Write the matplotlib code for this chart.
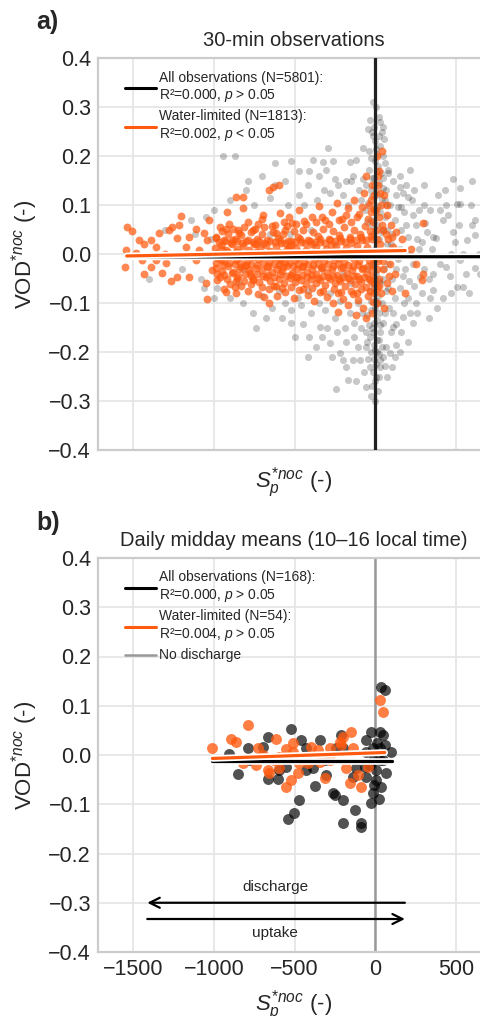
import matplotlib
matplotlib.use("Agg")
import matplotlib.pyplot as plt
import matplotlib.patheffects as pe
import seaborn as sns
import numpy as np

sns.set_style("whitegrid")
plt.rcParams['font.family'] = ['Liberation Sans', 'DejaVu Sans']
plt.rcParams['mathtext.fontset'] = 'custom'
plt.rcParams['mathtext.rm'] = 'Liberation Sans'
plt.rcParams['mathtext.it'] = 'Liberation Sans:italic'
plt.rcParams['axes.unicode_minus'] = True

# ---------------- data ----------------
ORANGE = '#ff5a0f'

# Panel a: 30-min observations, all observations (grey cloud)
a_all_pts = [
    (-15,0.311),(5,0.3),(-35,0.273),(27,0.27),(45,0.26),(-45,0.256),(38,0.25),(20,0.24),(55,0.235),(-5,0.23),
    (30,0.22),(-77,0.216),(10,0.205),(48,0.2),(-25,0.195),(60,0.185),(15,0.18),(-40,0.172),(35,0.165),(78,0.171),
    (-10,0.155),(25,0.145),(-55,0.14),(50,0.135),(5,0.128),(68,0.13),(-20,0.118),(40,0.112),(-45,0.105),(15,0.098),
    (-5,0.09),(30,0.085),(60,0.075),(-30,0.07),(10,0.06),(45,0.05),(-15,0.04),(25,0.03),(70,0.02),(-5,0.01),
    (40,0.0),(15,-0.01),(-25,-0.02),(55,-0.03),(5,-0.04),(-40,-0.05),(30,-0.06),(-10,-0.07),(65,-0.075),(18,-0.085),
    (-30,-0.095),(42,-0.1),(-5,-0.11),(25,-0.12),(-50,-0.125),(8,-0.135),(50,-0.14),(-20,-0.15),(30,-0.16),(-35,-0.17),
    (12,-0.175),(-8,-0.185),(40,-0.19),(-25,-0.2),(20,-0.205),(-45,-0.215),(5,-0.225),(30,-0.23),(-15,-0.24),(-56,-0.271),
    (-5,-0.26),(15,-0.28),(-30,-0.29),(0,-0.3),(-12,-0.02),(-20,0.06),(-8,-0.14),(22,-0.055),(-28,-0.115),(36,0.045),
    (-3,-0.195),(58,0.11),(-62,0.09),(-18,0.155),(-50,-0.03),(-10,0.26),(2,0.215),(-22,0.25),(8,0.17),(-2,-0.05),
    (3,-0.095),(-14,-0.16),(6,-0.25),(-6,-0.215),(12,0.12),(-8,0.14),(18,-0.1),(-34,-0.075),(28,-0.145),(-4,0.19),
    (-12,0.24),(22,0.28),(-40,0.21),(50,0.155),(-28,0.13),(65,0.1),(-50,0.065),(75,0.05),(35,0.0),(-3,-0.01),
    (80,-0.02),(48,-0.05),(-22,-0.06),(62,-0.12),(-42,-0.145),(25,-0.175),(-52,-0.18),(45,-0.21),(-35,-0.23),(10,-0.2),
    (-20,-0.27),(25,-0.25),
    (89,-0.203),(68,-0.189),(58,-0.229),(27,-0.216),(110,-0.148),(130,-0.142),(172,-0.128),(213,-0.121),(275,-0.046),(358,-0.073),
    (130,0.12),(172,0.124),(203,0.117),(224,0.11),(151,0.137),(213,0.171),(90,0.1),(120,0.07),(160,0.05),(200,0.035),
    (250,0.06),(95,0.02),(140,-0.01),(185,-0.03),(230,-0.02),(270,0.01),(105,-0.05),(150,-0.07),(200,-0.09),(250,-0.1),
    (85,-0.11),(120,-0.09),(170,-0.045),(240,-0.065),(300,-0.03),(290,0.025),(110,0.15),(80,0.165),(180,0.085),(140,0.095),
    (260,-0.12),(95,-0.16),(130,-0.185),(75,-0.25),(100,0.04),(125,-0.03),(155,0.01),(210,-0.055),(80,-0.07),(190,0.06),
    (150,0.16),(190,0.14),(240,0.13),(270,0.09),(300,0.1),(230,0.08),(160,0.095),(210,0.0),(260,0.03),(110,-0.12),
    (180,-0.1),(230,-0.14),(160,-0.16),(290,-0.08),(320,0.045),(340,-0.09),(300,0.14),(120,-0.21),(200,-0.18),(100,-0.23),
    (150,-0.2),
    (306,0.063),(420,0.069),(358,0.035),(378,0.032),(482,0.045),(492,0.025),(565,0.028),(617,0.038),(617,-0.029),(440,-0.027),
    (523,-0.012),(503,-0.067),(544,-0.067),(482,0.154),(523,0.134),(440,0.1),(503,0.103),(523,0.103),(330,-0.05),(400,-0.02),
    (460,-0.045),(340,0.09),(390,0.12),(600,0.06),(640,0.0),(560,-0.04),(420,-0.09),(350,0.01),(470,0.0),(590,0.1),
    (380,-0.11),(330,-0.13),(450,0.08),(520,0.06),(580,-0.08),(620,0.07),(470,-0.08),(400,0.09),(360,-0.04),(540,0.0),
    (600,0.15),(430,0.13),(650,-0.04),
    (-294,0.217),(-387,0.192),(-325,0.187),(-304,0.171),(-160,0.187),(-118,0.192),(-253,0.154),(-149,0.148),(-77,0.154),(-200,0.12),
    (-420,0.14),(-470,0.17),(-360,0.11),(-280,0.125),(-100,0.13),(-170,0.1),(-440,0.1),(-222,-0.203),(-201,-0.216),(-139,-0.216),
    (-98,-0.216),(-366,-0.189),(-408,-0.169),(-284,-0.182),(-449,-0.142),(-346,-0.148),(-170,-0.258),(-242,-0.275),(-130,-0.17),(-190,-0.15),
    (-250,-0.13),(-310,-0.115),(-400,-0.12),(-460,-0.105),(-90,-0.15),(-60,-0.19),(-110,-0.1),(-160,-0.12),(-220,-0.095),(-280,-0.08),
    (-350,-0.1),(-420,-0.075),(-480,-0.09),(-70,-0.24),(-120,-0.26),(-330,-0.03),(-250,0.02),(-150,-0.06),(-400,0.05),(-80,-0.12),
    (-130,-0.14),(-185,-0.18),(-300,-0.15),(-60,-0.16),(-240,-0.16),(-110,-0.19),(-90,0.11),(-140,0.16),(-230,0.14),(-320,0.13),
    (-330,-0.17),(-420,-0.21),(-180,-0.23),(-270,-0.21),(-500,-0.17),(-520,-0.14),(-560,-0.1),(-620,0.14),(-680,-0.13),(-740,-0.15),
    (-790,0.15),(-350,0.16),(-260,0.19),(-180,0.15),(-410,0.17),(-520,0.19),(-470,0.12),(-200,-0.04),(-380,0.02),
    (-946,0.2),(-868,0.2),(-700,0.16),(-620,0.185),(-560,0.15),(-800,0.13),(-900,0.11),(-1000,0.09),(-1050,0.075),(-750,0.1),
    (-650,0.115),(-540,0.1),(-980,-0.07),(-900,-0.09),(-820,-0.1),(-760,-0.12),(-700,-0.085),(-640,-0.11),(-580,-0.13),(-520,-0.115),
    (-600,-0.075),(-850,-0.06),(-1080,-0.05),(-1020,0.03),(-950,0.0),(-700,0.02),(-600,-0.02),(-530,0.04),(-1140,0.07),(-1200,-0.03),
    (-1000,-0.09),(-1060,-0.07),(-1120,0.04),(-1300,0.05),(-1400,-0.05),(-650,0.04),(-820,-0.03),
]

# Panel a: water-limited observations (orange)
a_wl_pts = [
    (-1537,0.056),(-1506,0.046),(-1547,0.009),(-1551,-0.026),(-1464,0.028),(-1433,0.021),(-1392,0.028),(-1361,0.015),(-1340,0.043),(-1278,0.05),
    (-1257,0.056),(-1206,0.078),(-1216,0.059),(-1226,0.032),(-1154,0.035),(-1175,0.015),(-1443,-0.012),(-1433,-0.041),(-1392,-0.026),(-1361,-0.012),
    (-1299,-0.019),(-1268,-0.056),(-1226,-0.046),(-1319,-0.039),(-1154,-0.046),(-1112,-0.012),(-1092,0.009),(-1061,0.042),(-1030,0.069),(-1040,0.028),
    (-1051,-0.06),(-1040,-0.091),(-1009,-0.033),(-978,-0.053),(-957,-0.012),(-926,-0.077),(-916,0.086),(-926,0.052),(-864,0.117),(-822,0.117),
    (-822,0.093),(-864,-0.08),(-864,-0.056),(-988,0.032),(-947,0.011),(-885,0.028),(-864,0.005),(-843,0.042),(-833,-0.026),(-781,-0.033),
    (-760,-0.053),(-740,0.021),(-729,0.062),(-698,0.079),(-657,0.131),(-636,0.137),(-595,0.141),(-688,-0.087),(-657,-0.1),(-615,-0.066),
    (-584,-0.012),(-615,0.042),(-564,0.066),(-533,0.076),(-533,0.015),(-492,-0.046),(-1480,0.002),(-1300,0.0),(-1180,-0.004),(-1110,0.052),
    (-960,0.055),(-905,0.062),(-850,0.048),(-790,0.066),(-745,0.052),(-700,0.071),(-640,0.058),(-590,0.083),(-560,0.05),(-515,0.064),
    (-470,0.09),(-430,0.061),(-395,0.076),(-350,0.098),(-310,0.07),(-270,0.085),(-240,0.105),(-205,0.072),(-170,0.093),(-135,0.11),
    (-100,0.081),(-70,0.124),(-40,0.1),(-20,0.14),(-55,0.16),(-10,0.12),(-30,0.085),
    (-950,0.047),(-880,0.052),(-815,0.055),(-760,0.049),(-690,0.056),(-620,0.06),(-548,0.058),(-490,0.062),(-440,0.068),(-370,0.065),
    (-330,0.075),(-285,0.062),(-225,0.07),(-185,0.08),(-150,0.066),(-115,0.075),(-85,0.095),(-48,0.072),(-25,0.11),(-8,0.092),
    (-985,0.035),(-940,0.028),(-910,0.041),(-870,0.03),(-830,0.038),(-800,0.026),(-770,0.044),(-735,0.031),(-705,0.04),(-670,0.029),
    (-635,0.045),(-605,0.033),(-575,0.041),(-540,0.027),(-505,0.046),(-480,0.034),(-450,0.05),(-420,0.029),(-385,0.044),(-355,0.036),
    (-325,0.052),(-290,0.031),(-260,0.047),(-225,0.038),(-195,0.055),(-160,0.034),(-130,0.05),(-95,0.041),(-65,0.058),(-35,0.046),(-12,0.065),
    (-970,0.024),(-930,0.027),(-895,0.022),(-860,0.026),(-825,0.023),(-790,0.028),(-755,0.024),(-720,0.026),(-688,0.022),(-655,0.027),
    (-622,0.024),(-590,0.028),(-558,0.023),(-525,0.026),(-495,0.024),(-465,0.03),(-435,0.022),(-405,0.027),(-375,0.025),(-345,0.03),
    (-315,0.023),(-282,0.028),(-250,0.026),(-218,0.032),(-186,0.024),(-155,0.03),(-122,0.028),(-90,0.034),(-58,0.029),(-28,0.036),
    (-995,0.012),(-955,0.018),(-925,0.008),(-890,0.02),(-855,0.011),(-820,0.017),(-785,0.009),(-750,0.021),(-715,0.012),(-680,0.019),
    (-650,0.007),(-615,0.016),(-585,0.022),(-550,0.01),(-520,0.018),(-490,0.013),(-460,0.024),(-430,0.009),(-400,0.02),(-370,0.014),
    (-340,0.025),(-305,0.011),(-275,0.019),(-245,0.016),(-210,0.027),(-180,0.012),(-150,0.022),(-115,0.017),(-85,0.028),(-50,0.015),(-20,0.03),
    (-980,0.002),(-945,-0.001),(-910,0.004),(-875,0.0),(-842,0.003),(-808,-0.002),(-772,0.001),(-738,0.005),(-702,-0.001),(-668,0.003),
    (-632,0.0),(-600,0.004),(-568,-0.002),(-535,0.002),(-505,0.0),(-475,0.005),(-445,-0.001),(-415,0.003),(-385,0.0),(-355,0.004),
    (-325,-0.002),(-295,0.002),(-262,0.005),(-232,0.0),(-200,0.003),(-170,-0.001),(-140,0.004),(-108,0.001),(-78,0.003),(-45,-0.002),(-18,0.002),
    (-975,-0.008),(-935,-0.014),(-900,-0.005),(-865,-0.012),(-830,-0.003),(-795,-0.015),(-760,-0.007),(-725,-0.011),(-690,-0.002),(-660,-0.016),
    (-625,-0.006),(-595,-0.01),(-560,-0.018),(-530,-0.004),(-500,-0.012),(-470,-0.007),(-440,-0.017),(-410,-0.002),(-380,-0.011),(-350,-0.006),
    (-320,-0.015),(-290,-0.003),(-258,-0.012),(-228,-0.008),(-195,-0.016),(-165,-0.004),(-135,-0.01),(-100,-0.014),(-70,-0.005),(-40,-0.012),(-15,-0.008),
    (-985,-0.019),(-945,-0.022),(-908,-0.018),(-872,-0.021),(-838,-0.019),(-802,-0.023),(-768,-0.02),(-732,-0.022),(-698,-0.019),(-665,-0.024),
    (-630,-0.02),(-600,-0.022),(-570,-0.026),(-538,-0.019),(-508,-0.024),(-478,-0.02),(-448,-0.025),(-418,-0.021),(-388,-0.023),(-358,-0.02),
    (-328,-0.026),(-296,-0.021),(-264,-0.024),(-234,-0.02),(-202,-0.027),(-170,-0.022),(-140,-0.025),(-106,-0.022),(-74,-0.028),(-44,-0.024),(-14,-0.022),
    (-990,-0.028),(-950,-0.034),(-915,-0.025),(-880,-0.036),(-845,-0.03),(-810,-0.024),(-775,-0.038),(-740,-0.029),(-705,-0.033),(-672,-0.026),
    (-640,-0.037),(-610,-0.03),(-578,-0.035),(-545,-0.025),(-515,-0.039),(-485,-0.031),(-455,-0.027),(-425,-0.036),(-395,-0.03),(-365,-0.041),
    (-335,-0.028),(-300,-0.036),(-270,-0.031),(-240,-0.043),(-210,-0.029),(-178,-0.038),(-145,-0.033),(-112,-0.045),(-80,-0.03),(-50,-0.04),(-20,-0.035),
    (-980,-0.04),(-935,-0.043),(-890,-0.039),(-852,-0.044),(-805,-0.041),(-770,-0.045),(-732,-0.04),(-695,-0.044),(-662,-0.042),(-625,-0.046),
    (-590,-0.041),(-555,-0.045),(-520,-0.043),(-488,-0.047),(-455,-0.042),(-422,-0.046),(-390,-0.043),(-358,-0.048),(-326,-0.044),(-292,-0.047),
    (-262,-0.045),(-228,-0.05),(-198,-0.046),(-168,-0.049),(-135,-0.045),(-102,-0.05),(-70,-0.047),(-40,-0.052),(-12,-0.048),
    (-965,-0.046),(-920,-0.052),(-860,-0.048),(-815,-0.055),(-760,-0.05),(-720,-0.058),(-680,-0.047),(-650,-0.056),(-600,-0.052),(-565,-0.06),
    (-530,-0.049),(-495,-0.057),(-460,-0.053),(-430,-0.062),(-400,-0.05),(-370,-0.059),(-340,-0.054),(-310,-0.064),(-280,-0.051),(-250,-0.06),
    (-220,-0.056),(-190,-0.066),(-160,-0.053),(-125,-0.061),(-92,-0.057),(-60,-0.068),(-30,-0.055),(-10,-0.062),
    (-900,-0.062),(-830,-0.066),(-770,-0.062),(-700,-0.068),(-630,-0.065),(-580,-0.07),(-520,-0.068),(-450,-0.072),(-390,-0.07),(-325,-0.075),
    (-255,-0.072),(-210,-0.078),(-150,-0.075),(-115,-0.08),(-88,-0.072),(-35,-0.075),(-8,-0.08),
    (-940,-0.072),(-870,-0.068),(-790,-0.075),(-730,-0.081),(-660,-0.072),(-610,-0.085),(-560,-0.078),(-505,-0.09),(-470,-0.074),(-420,-0.083),
    (-380,-0.095),(-345,-0.077),(-300,-0.088),(-265,-0.1),(-230,-0.079),(-200,-0.091),(-170,-0.105),(-140,-0.082),(-105,-0.094),(-75,-0.11),
    (-45,-0.086),(-15,-0.098),(-230,-0.118),(-120,-0.125),(-60,-0.13),(-20,-0.12),
    (10,0.2),(25,0.17),(40,0.21),(15,0.14),(55,0.12),(35,0.1),(70,0.08),(20,0.075),(95,0.06),(50,0.05),
    (130,0.045),(80,0.03),(165,0.03),(110,0.015),(30,0.02),(60,0.0),(140,-0.005),(15,-0.015),(90,-0.02),(45,-0.03),
    (120,-0.04),(20,-0.05),(70,-0.06),(100,-0.075),(35,-0.08),(10,-0.1),(55,-0.11),(296,0.063),(296,-0.04),(286,-0.053),
    (182,-0.08),(220,0.01),(250,-0.02),(5,0.05),(12,0.03),(8,-0.03),(25,-0.065),(40,0.06),(65,0.04),(85,-0.045),
    (105,0.035),(75,0.1),(30,0.125),(48,-0.015),(5,0.09),(18,0.16),(8,-0.07),
]

# Panel b: daily midday means
b_all_pts = [
    (37,0.139),(58,0.131),(-522,0.052),(-667,0.037),(-791,0.014),(-853,-0.039),(-905,0.003),(-667,-0.049),(-605,-0.049),(-460,0.03),
    (-470,-0.091),(-501,-0.118),(-543,-0.13),(-346,0.03),(-377,-0.062),(-305,-0.04),(-263,-0.078),(-253,-0.081),(-201,-0.091),(-211,0.041),
    (-128,-0.112),(-201,-0.139),(-87,-0.139),(-87,-0.146),(-25,0.047),(-56,0.03),(-15,0.014),(47,0.041),(27,0.014),(99,0.007),
    (6,-0.03),(68,-0.037),(37,-0.064),(-25,-0.098),(-15,-0.078),(6,-0.051),(-67,-0.024),(-118,-0.027),(-387,-0.027),(-429,-0.03),
    (-553,-0.024),(-201,0.014),(-56,0.007),(27,-0.01),(-781,-0.01),(-429,0.014),(-698,0.017),(-594,-0.03),(-242,0.014),(-139,-0.044),
    (-315,-0.01),(-56,-0.044),(27,0.047),(47,-0.01),(-15,-0.01),(10,0.025),(-35,-0.02),(60,0.02),(-10,-0.06),(20,-0.09),
]
b_wl_pts = [
    (-1009,0.014),(-791,0.061),(-895,0.032),(-864,0.027),(-822,-0.017),(-739,-0.021),(-729,0.014),(-667,-0.03),(-615,0.032),(-625,-0.01),
    (-656,-0.037),(-594,-0.027),(-553,0.012),(-512,0.024),(-553,-0.064),(-522,-0.051),(-470,-0.017),(-481,-0.037),(-398,0.017),(-418,-0.017),
    (-346,-0.014),(-356,0.01),(-315,-0.047),(-284,0.014),(-222,0.027),(-201,0.037),(-211,0.02),(-180,-0.027),(-149,0.047),(-139,0.014),
    (-160,-0.057),(-108,-0.04),(-87,-0.064),(-46,-0.024),(27,0.112),(47,0.088),(-594,-0.004),(-512,0.007),(-698,0.0),(-284,-0.01),
]

# regression lines (endpoints)
a_fit_all_x, a_fit_all_y = [-1545, 660], [-0.006, -0.0055]
a_fit_wl_x, a_fit_wl_y = [-1540, 185], [-0.004, 0.007]
b_fit_all_x, b_fit_all_y = [-1009, 101], [-0.012, -0.012]
b_fit_wl_x, b_fit_wl_y = [-1009, 58], [-0.007, 0.005]

a_labels = ["All observations (N=5801):\nR²=0.000, $p$ > 0.05",
            "Water-limited (N=1813):\nR²=0.002, $p$ < 0.05"]
b_labels = ["All observations (N=168):\nR²=0.000, $p$ > 0.05",
            "Water-limited (N=54):\nR²=0.004, $p$ > 0.05",
            "No discharge"]

yticks = [-0.4, -0.3, -0.2, -0.1, 0.0, 0.1, 0.2, 0.3, 0.4]
xticks = [-1500, -1000, -500, 0, 500]
XLIM = (-1718, 710)
YLIM = (-0.4, 0.4)

# ---------------- figure ----------------
fig = plt.figure(figsize=(4.8, 10.16), dpi=100)
ax1 = fig.add_axes([98/480, (1016-450)/1016, 392/480, 392/1016])
ax2 = fig.add_axes([98/480, (1016-952)/1016, 392/480, 394/1016])

stroke = [pe.Stroke(linewidth=4.8, foreground='white'), pe.Normal()]

for ax in (ax1, ax2):
    ax.set_xlim(*XLIM)
    ax.set_ylim(*YLIM)
    ax.set_xticks(xticks)
    ax.set_yticks(yticks)
    ax.set_yticklabels([f"{t:.1f}".replace('-', '\u2212') for t in yticks])
    ax.grid(True, color='#e6e6e6', lw=1.3)
    for s in ax.spines.values():
        s.set_color('#cccccc')
        s.set_linewidth(1.6)
    ax.tick_params(axis='both', labelsize=15.5, colors='#262626', length=0, pad=5)
    ax.set_ylabel(r'VOD$^{*noc}$ (-)', fontsize=16, color='#262626', labelpad=6)
    ax.set_xlabel(r'$S_p^{*noc}$ (-)', fontsize=16, color='#262626', labelpad=6)

# panel a
ax1.set_xticklabels([])
ax_x = [p[0] for p in a_all_pts]; ax_y = [p[1] for p in a_all_pts]
aw_x = [p[0] for p in a_wl_pts]; aw_y = [p[1] for p in a_wl_pts]
ax1.scatter(ax_x, ax_y, s=26, color='black', alpha=0.22, lw=0, zorder=2)
ax1.scatter(aw_x, aw_y, s=32, color=ORANGE, alpha=0.72, lw=0, zorder=3)
ax1.axvline(0, color='#222222', lw=2.3, zorder=5)
ax1.plot(a_fit_all_x, a_fit_all_y, color='black', lw=2.3, zorder=6, path_effects=stroke)
ax1.plot(a_fit_wl_x, a_fit_wl_y, color=ORANGE, lw=2.3, zorder=7, path_effects=stroke)
h1 = plt.Line2D([], [], color='black', lw=2.2)
h2 = plt.Line2D([], [], color=ORANGE, lw=2.2)
leg_kw = dict(loc='upper left', frameon=False, fontsize=10, handlelength=2.2,
              handletextpad=0.2, borderaxespad=0.5, labelspacing=0.4,
              bbox_to_anchor=(0.038, 1.0))
ax1.legend([h1, h2], a_labels, **leg_kw)
ax1.set_title('30-min observations', fontsize=14.5, color='#262626', pad=9)
fig.text(36/480, 1-22/1016, 'a)', fontsize=18, fontweight='bold', color='#262626', va='center', ha='left')

# panel b
bx = [p[0] for p in b_all_pts]; by = [p[1] for p in b_all_pts]
bwx = [p[0] for p in b_wl_pts]; bwy = [p[1] for p in b_wl_pts]
ax2.axvline(0, color='#999999', lw=1.8, zorder=1)
ax2.scatter(bx, by, s=62, color='black', alpha=0.68, lw=0, zorder=2)
ax2.scatter(bwx, bwy, s=62, color=ORANGE, alpha=0.78, lw=0, zorder=3)
ax2.plot(b_fit_all_x, b_fit_all_y, color='black', lw=2.3, zorder=6, path_effects=stroke)
ax2.plot(b_fit_wl_x, b_fit_wl_y, color=ORANGE, lw=2.3, zorder=7, path_effects=stroke)
h3 = plt.Line2D([], [], color='#999999', lw=1.8)
ax2.legend([h1, h2, h3], b_labels, **leg_kw)
ax2.set_title('Daily midday means (10\u201316 local time)', fontsize=14.5, color='#262626', pad=9)
fig.text(36/480, 1-523/1016, 'b)', fontsize=18, fontweight='bold', color='#262626', va='center', ha='left')

ax2.annotate('', xy=(-1430, -0.300), xytext=(200, -0.300),
             arrowprops=dict(arrowstyle='->', color='black', lw=1.6, mutation_scale=18), zorder=8)
ax2.annotate('', xy=(200, -0.333), xytext=(-1430, -0.333),
             arrowprops=dict(arrowstyle='->', color='black', lw=1.6, mutation_scale=18), zorder=8)
ax2.text(-620, -0.268, 'discharge', fontsize=11, ha='center', va='center', color='#262626')
ax2.text(-620, -0.362, 'uptake', fontsize=11, ha='center', va='center', color='#262626')

fig.savefig('out.png', dpi=100)
